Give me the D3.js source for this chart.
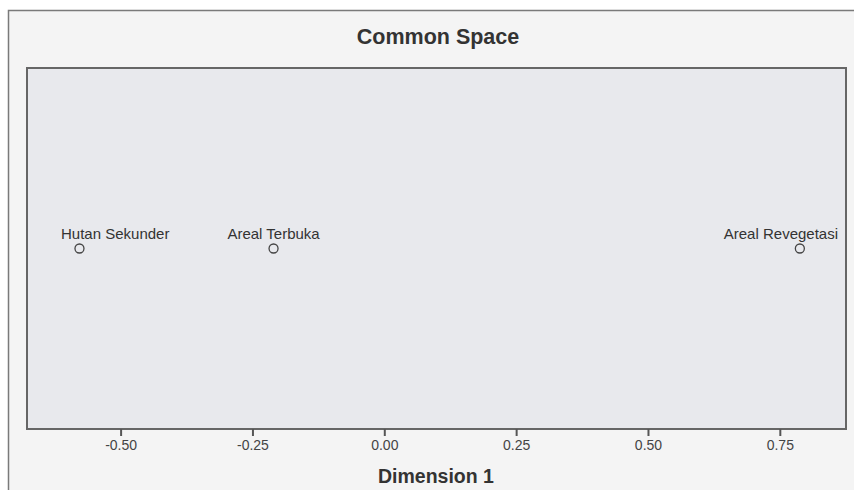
<!DOCTYPE html>
<html>
<head>
<meta charset="utf-8">
<script src="https://cdn.jsdelivr.net/npm/d3@7"></script>
<style>
  body { margin: 0; background: #fff; }
  svg { display: block; }
  text { font-family: "Liberation Sans", Arial, sans-serif; }
</style>
</head>
<body>
<svg id="chart"></svg>
<script>
// MDS common space, one dimension
const labels = ["Hutan Sekunder", "Areal Terbuka", "Areal Revegetasi"];
const dim1 = [-0.578, -0.210, 0.788];
const xTicks = [-0.50, -0.25, 0.00, 0.25, 0.50, 0.75];

const width = 854, height = 490;
const margin = {left: 27, right: 8, top: 68, bottom: 61};

const svg = d3.select('#chart')
    .attr('width', width)
    .attr('height', height);

// outer panel
svg.append('rect')
    .attr('x', 8.5)
    .attr('y', 10.5)
    .attr('width', width)
    .attr('height', height)
    .style('fill', '#f4f4f4')
    .style('stroke', '#7a7a7a')
    .style('stroke-width', 1.5);

const x = d3.scaleLinear()
    .domain([-0.6775, 0.8755])
    .range([margin.left, width - margin.right]);

const y = d3.scaleLinear()
    .domain([-1, 1])
    .range([height - margin.bottom, margin.top]);

// plot area
svg.append('rect')
    .attr('x', margin.left)
    .attr('y', margin.top)
    .attr('width', width - margin.left - margin.right)
    .attr('height', height - margin.top - margin.bottom)
    .style('fill', '#e8e9ed')
    .style('stroke', '#666')
    .style('stroke-width', 2);

const fmt = d3.format('.2f');
const xAxis = svg.append('g')
    .attr('transform', `translate(0,${height - margin.bottom})`)
    .call(d3.axisBottom(x)
        .tickValues(xTicks)
        .tickFormat(d => fmt(d).replace('\u2212', '-'))
        .tickSize(7)
        .tickPadding(4));

xAxis.select('.domain').remove();
xAxis.selectAll('line')
    .style('stroke', '#555')
    .style('stroke-width', 2);
xAxis.selectAll('text')
    .attr('font-size', '14px')
    .attr('font-family', '"Liberation Sans", Arial, sans-serif')
    .style('fill', '#444');

// title and axis title
svg.append('text')
    .text('Common Space')
    .attr('x', 438)
    .attr('y', 44)
    .attr('text-anchor', 'middle')
    .attr('font-size', '21.5px')
    .attr('font-weight', 'bold')
    .style('fill', '#333');

svg.append('text')
    .text('Dimension 1')
    .attr('x', 436)
    .attr('y', 483)
    .attr('text-anchor', 'middle')
    .attr('font-size', '19.5px')
    .attr('font-weight', 'bold')
    .style('fill', '#333');

const pts = svg.selectAll('.pt')
    .data(labels.map((d, i) => ({name: d, v: dim1[i]})))
    .enter().append('g')
    .attr('class', 'pt')
    .attr('transform', d => `translate(${x(d.v)},${y(0)})`);

pts.append('circle')
    .attr('r', 4.5)
    .style('fill', 'none')
    .style('stroke', '#444')
    .style('stroke-width', 1.3);

// labels centred above the point, pushed back inside the plot frame
pts.append('text')
    .text(d => d.name)
    .attr('y', -10)
    .attr('font-size', '15px')
    .style('fill', '#333')
    .attr('x', function (d) {
        const w = this.getComputedTextLength();
        const cx = x(d.v);
        let left = cx - w / 2;
        left = Math.max(left, margin.left + 34);
        left = Math.min(left, width - margin.right - 8 - w);
        return left - cx;
    });
</script>
</body>
</html>
